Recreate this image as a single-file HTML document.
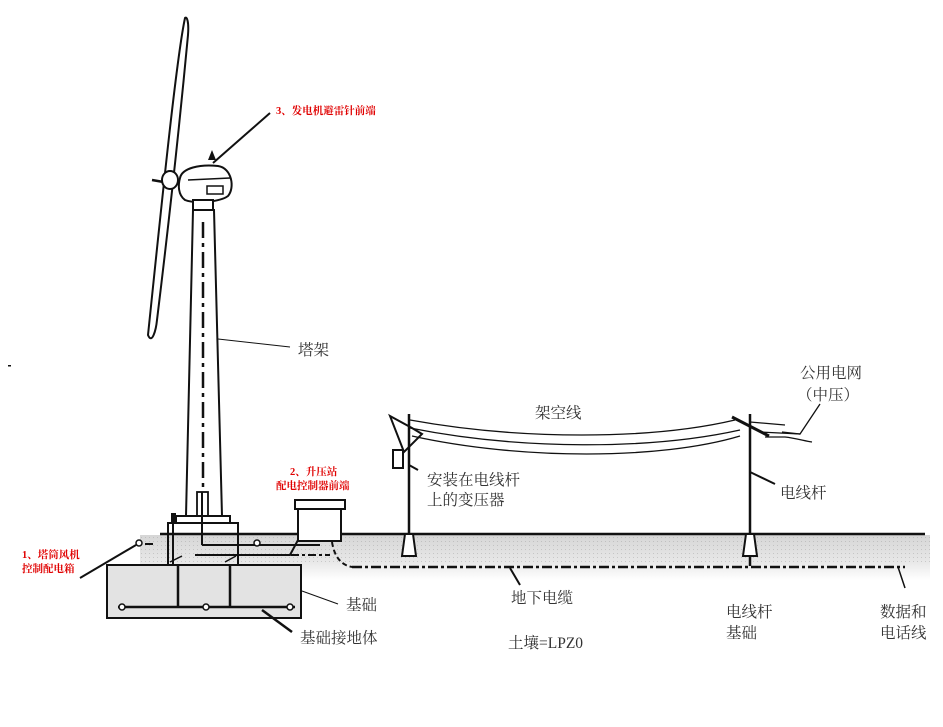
<!DOCTYPE html>
<html><head><meta charset="utf-8"><style>
html,body{margin:0;padding:0;background:#fff;}
svg{display:block;}
text{font-family:"Liberation Serif","Noto Serif CJK SC",serif;fill:#333;}
.r{fill:#e00000;font-size:10.5px;font-weight:bold;}
.b{font-size:15.5px;}
</style></head><body>
<svg width="943" height="727" viewBox="0 0 943 727" xmlns="http://www.w3.org/2000/svg">
<defs>
<linearGradient id="soil" x1="0" y1="0" x2="0" y2="1">
<stop offset="0" stop-color="#d6d6d6"/><stop offset="0.6" stop-color="#e8e8e8"/><stop offset="1" stop-color="#fff"/>
</linearGradient>
<pattern id="dots" width="4" height="4" patternUnits="userSpaceOnUse">
<rect x="1" y="1" width="1" height="1" fill="#999"/>
</pattern>
</defs>
<!-- soil band -->
<rect x="140" y="535" width="790" height="45" fill="url(#soil)"/>
<rect x="140" y="535" width="790" height="30" fill="url(#dots)" opacity="0.4"/>
<rect x="107" y="565" width="194" height="53" fill="#e3e3e3" stroke="#111" stroke-width="2"/>
<line x1="160" y1="534" x2="925" y2="534" stroke="#111" stroke-width="2.5"/>

<!-- blade -->
<path d="M185,18 C176,60 160,220 148,335 C152,345 156,330 157,320 C168,230 180,120 188,35 C189,22 187,16 185,18 Z" fill="#fff" stroke="#111" stroke-width="2"/>
<line x1="152" y1="180" x2="175" y2="184" stroke="#111" stroke-width="2.5"/>
<ellipse cx="170" cy="180" rx="8" ry="9" fill="#fff" stroke="#111" stroke-width="2"/>
<path d="M180,178 C182,168 200,164 218,166 C232,168 235,188 228,196 C220,202 195,204 185,200 C178,195 178,185 180,178 Z" fill="#fff" stroke="#111" stroke-width="2"/>
<rect x="207" y="186" width="16" height="8" fill="#fff" stroke="#111" stroke-width="1.5"/>
<line x1="188" y1="180" x2="230" y2="178" stroke="#111" stroke-width="1.5"/>
<path d="M208,160 L212,150 L216,160 Z" fill="#111"/>
<rect x="193" y="200" width="20" height="10" fill="#fff" stroke="#111" stroke-width="2"/>
<line x1="270" y1="113" x2="213" y2="163" stroke="#111" stroke-width="2"/>
<text x="276" y="114" class="r">3、发电机避雷针前端</text>

<!-- tower -->
<path d="M193,210 L214,210 L222,516 L186,516 Z" fill="#fff" stroke="#111" stroke-width="2"/>
<line x1="203" y1="222" x2="203" y2="500" stroke="#111" stroke-width="2.5" stroke-dasharray="16,5,4,5"/>
<rect x="197" y="492" width="11" height="25" fill="#fff" stroke="#111" stroke-width="1.8"/>
<rect x="176" y="516" width="54" height="7" fill="#fff" stroke="#111" stroke-width="2"/>
<rect x="168" y="523" width="70" height="42" fill="none" stroke="#111" stroke-width="2"/>
<rect x="171" y="513" width="5" height="10" fill="#111"/>
<line x1="173" y1="523" x2="173" y2="565" stroke="#111" stroke-width="2"/>
<line x1="202" y1="492" x2="202" y2="545" stroke="#111" stroke-width="2"/>
<polyline points="202,545 320,545" fill="none" stroke="#111" stroke-width="2"/>
<polyline points="195,555 290,555 298,540 330,540" fill="none" stroke="#111" stroke-width="2"/>
<circle cx="257" cy="543" r="3" fill="#fff" stroke="#111" stroke-width="1.5"/>
<line x1="240" y1="555" x2="330" y2="555" stroke="#111" stroke-width="2" stroke-dasharray="8,3,3,3"/>
<line x1="178" y1="565" x2="178" y2="608" stroke="#111" stroke-width="2.5"/>
<line x1="230" y1="565" x2="230" y2="608" stroke="#111" stroke-width="2.5"/>
<line x1="118" y1="607" x2="295" y2="607" stroke="#111" stroke-width="2.5"/>
<circle cx="122" cy="607" r="3" fill="#fff" stroke="#111" stroke-width="1.5"/>
<circle cx="206" cy="607" r="3" fill="#fff" stroke="#111" stroke-width="1.5"/>
<circle cx="290" cy="607" r="3" fill="#fff" stroke="#111" stroke-width="1.5"/>
<line x1="170" y1="562" x2="182" y2="556" stroke="#111" stroke-width="1.5"/>
<line x1="225" y1="562" x2="236" y2="556" stroke="#111" stroke-width="1.5"/>
<line x1="80" y1="578" x2="136" y2="545" stroke="#111" stroke-width="2"/>
<circle cx="139" cy="543" r="3" fill="#fff" stroke="#111" stroke-width="1.5"/>
<line x1="145" y1="544" x2="153" y2="544" stroke="#111" stroke-width="2"/>
<text x="22" y="558" class="r">1、塔筒风机</text>
<text x="22" y="572" class="r">控制配电箱</text>
<rect x="295" y="500" width="50" height="9" fill="#fff" stroke="#111" stroke-width="2"/>
<rect x="298" y="509" width="43" height="32" fill="#fff" stroke="#111" stroke-width="2"/>
<text x="290" y="475" class="r">2、升压站</text>
<text x="276" y="489" class="r">配电控制器前端</text>
<path d="M332,542 C334,555 340,565 352,567" fill="none" stroke="#111" stroke-width="2" stroke-dasharray="5,3"/>
<line x1="352" y1="567" x2="905" y2="567" stroke="#111" stroke-width="2.5" stroke-dasharray="10,3,3,3"/>

<line x1="218" y1="339" x2="290" y2="347" stroke="#111" stroke-width="1"/>
<text x="298" y="355" class="b">塔架</text>
<line x1="302" y1="591" x2="338" y2="604" stroke="#111" stroke-width="1"/>
<text x="346" y="610" class="b">基础</text>
<line x1="262" y1="610" x2="292" y2="632" stroke="#111" stroke-width="2.5"/>
<text x="300" y="643" class="b">基础接地体</text>
<line x1="510" y1="568" x2="520" y2="585" stroke="#111" stroke-width="2"/>
<text x="511" y="603" class="b">地下电缆</text>
<text x="508" y="648" class="b">土壤=LPZ0</text>

<line x1="409" y1="414" x2="409" y2="534" stroke="#111" stroke-width="2.5"/>
<path d="M405,534 L413,534 L416,556 L402,556 Z" fill="#fff" stroke="#111" stroke-width="2"/>
<line x1="750" y1="414" x2="750" y2="566" stroke="#111" stroke-width="2.5"/>
<path d="M746,534 L754,534 L757,556 L743,556 Z" fill="#fff" stroke="#111" stroke-width="2"/>
<line x1="732" y1="417" x2="769" y2="436" stroke="#111" stroke-width="3"/>
<path d="M390,416 L412,428 L422,434 L404,452 Z" fill="none" stroke="#111" stroke-width="2"/>
<rect x="393" y="450" width="10" height="18" fill="#fff" stroke="#111" stroke-width="2"/>
<line x1="409" y1="465" x2="418" y2="470" stroke="#111" stroke-width="2"/>
<path d="M410,420 C520,440 650,440 735,420" fill="none" stroke="#111" stroke-width="1.3"/>
<path d="M410,428 C520,450 650,450 740,430" fill="none" stroke="#111" stroke-width="1.3"/>
<path d="M412,436 C520,460 660,460 740,436" fill="none" stroke="#111" stroke-width="1.3"/>
<path d="M750,422 L785,425" fill="none" stroke="#111" stroke-width="1.3"/>
<path d="M760,432 L800,434" fill="none" stroke="#111" stroke-width="1.3"/>
<path d="M765,437 L785,437 C795,438 805,441 812,442" fill="none" stroke="#111" stroke-width="1.3"/>
<polyline points="782,432 800,434 820,404" fill="none" stroke="#111" stroke-width="1.3"/>
<text x="535" y="418" class="b">架空线</text>
<text x="800" y="378" class="b">公用电网</text>
<text x="797" y="400" class="b">（中压）</text>
<text x="427" y="485" class="b">安装在电线杆</text>
<text x="427" y="505" class="b">上的变压器</text>
<line x1="750" y1="472" x2="775" y2="484" stroke="#111" stroke-width="2"/>
<text x="780" y="498" class="b">电线杆</text>
<text x="726" y="617" class="b">电线杆</text>
<text x="726" y="638" class="b">基础</text>
<line x1="898" y1="567" x2="905" y2="588" stroke="#111" stroke-width="1.5"/>
<text x="880" y="617" class="b">数据和</text>
<text x="880" y="638" class="b">电话线</text>
<rect x="8" y="365" width="3" height="1.5" fill="#111"/>
</svg>
</body></html>
